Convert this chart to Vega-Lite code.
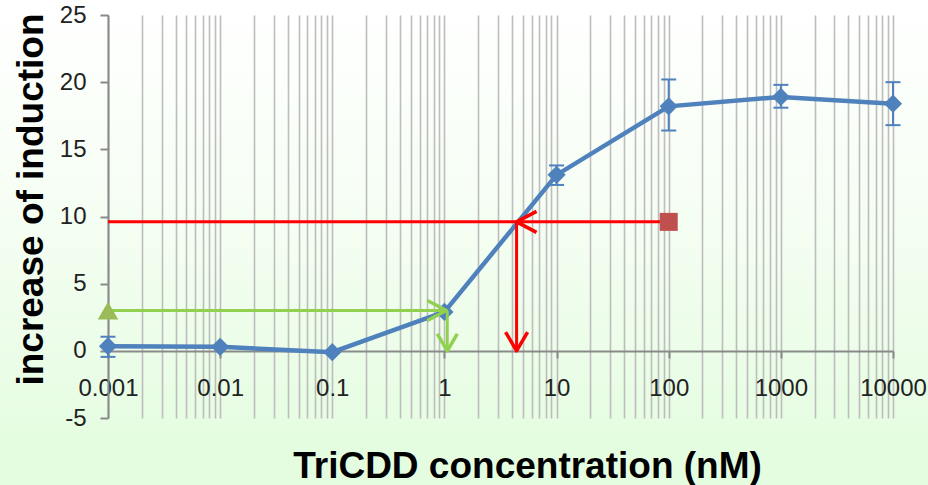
{
  "$schema": "https://vega.github.io/schema/vega-lite/v6.json",
  "width": 928,
  "height": 433,
  "autosize": {"type": "none"},
  "padding": {"left": 0, "top": 0, "right": 0, "bottom": 52},
  "background": "#e4fcdf",
  "config": {
    "font": "Liberation Sans",
    "view": {
      "stroke": null,
      "fill": {
        "gradient": "linear", "x1": 0, "y1": 0, "x2": 0, "y2": 1,
        "stops": [
          {"offset": 0, "color": "#ffffff"},
          {"offset": 0.5, "color": "#f5fef3"},
          {"offset": 1, "color": "#e6fde2"}
        ]
      }
    }
  },
  "datasets": {
    "curve": [
      {"conc": 0.001, "induction": 0.35, "lo": -0.45, "hi": 1.05},
      {"conc": 0.01, "induction": 0.3, "lo": 0.3, "hi": 0.3},
      {"conc": 0.1, "induction": -0.1, "lo": -0.1, "hi": -0.1},
      {"conc": 1, "induction": 2.9, "lo": 2.9, "hi": 2.9},
      {"conc": 10, "induction": 13.1, "lo": 12.35, "hi": 13.8},
      {"conc": 100, "induction": 18.2, "lo": 16.4, "hi": 20.2},
      {"conc": 1000, "induction": 18.9, "lo": 18.1, "hi": 19.8},
      {"conc": 10000, "induction": 18.4, "lo": 16.8, "hi": 20.0}
    ],
    "redH": [{"conc": 0.001, "conc2": 100, "induction": 9.6}],
    "redV": [{"conc": 4.4, "induction": 9.6, "induction2": 0}],
    "greenH": [{"conc": 0.001, "conc2": 1.04, "induction": 3}],
    "greenV": [{"conc": 1.06, "induction": 3, "induction2": 0}],
    "redLeftTip": [{"conc": 4.4, "induction": 9.6}],
    "redDownTip": [{"conc": 4.4, "induction": 0}],
    "greenRightTip": [{"conc": 1.04, "induction": 3}],
    "greenDownTip": [{"conc": 1.06, "induction": 0}],
    "square": [{"conc": 100, "induction": 9.6}],
    "triangle": [{"conc": 0.001, "induction": 3}]
  },
  "layer": [
    {
      "data": {"name": "curve"},
      "mark": {"type": "line", "color": "#4f81bd", "strokeWidth": 4.5},
      "encoding": {
        "x": {
          "field": "conc", "type": "quantitative",
          "scale": {"type": "log", "domain": [0.001, 10000], "range": [108, 893], "nice": false},
          "axis": {
            "title": "TriCDD concentration (nM)",
            "values": [0.001,0.002,0.003,0.004,0.005,0.006,0.007,0.008,0.009,0.01,0.02,0.03,0.04,0.05,0.06,0.07,0.08,0.09,0.1,0.2,0.3,0.4,0.5,0.6,0.7,0.8,0.9,1,2,3,4,5,6,7,8,9,10,20,30,40,50,60,70,80,90,100,200,300,400,500,600,700,800,900,1000,2000,3000,4000,5000,6000,7000,8000,9000,10000],
            "offset": -82,
            "grid": true,
            "gridColor": "#bdbdbd",
            "gridWidth": 1.6,
            "domainColor": "#8a8a8a",
            "domainWidth": 2,
            "tickColor": "#8a8a8a",
            "tickWidth": 2,
            "tickSize": 7,
            "tickOpacity": {"condition": {"test": "abs(log(datum.value)/LN10 - round(log(datum.value)/LN10)) < 0.000001", "value": 1}, "value": 0},
            "labelExpr": "abs(log(datum.value)/LN10 - round(log(datum.value)/LN10)) < 0.000001 ? format(datum.value, '~g') : ''",
            "labelFontSize": 24,
            "labelColor": "#222222",
            "labelPadding": 18,
            "labelOverlap": false,
            "labelFlush": false,
            "labelBound": false,
            "titleFontSize": 37,
            "titleFontWeight": "bold",
            "titleColor": "#000000",
            "titleX": 527,
            "titleY": 126,
            "titleBaseline": "alphabetic"
          }
        },
        "y": {
          "field": "induction", "type": "quantitative",
          "scale": {"domain": [-5, 25], "range": [418, 15], "nice": false, "zero": false},
          "axis": {
            "title": "increase of induction",
            "values": [-5, 0, 5, 10, 15, 20, 25],
            "labelExpr": "'' + datum.value",
            "offset": -108,
            "grid": false,
            "domainColor": "#8a8a8a",
            "domainWidth": 2,
            "tickColor": "#8a8a8a",
            "tickWidth": 2,
            "tickSize": 8,
            "labelFontSize": 24,
            "labelColor": "#222222",
            "labelPadding": 14,
            "labelOverlap": false,
            "labelFlush": false,
            "titleFontSize": 37,
            "titleFontWeight": "bold",
            "titleColor": "#000000",
            "titleAngle": 270,
            "titleX": -66,
            "titleY": 199,
            "titleBaseline": "alphabetic"
          }
        }
      }
    },
    {
      "data": {"name": "curve"},
      "mark": {"type": "rule", "color": "#4f81bd", "strokeWidth": 2},
      "encoding": {
        "x": {"field": "conc", "type": "quantitative"},
        "y": {"field": "lo", "type": "quantitative"},
        "y2": {"field": "hi"}
      }
    },
    {
      "data": {"name": "curve"},
      "mark": {"type": "tick", "orient": "horizontal", "size": 15, "thickness": 2, "color": "#4f81bd", "opacity": 1},
      "encoding": {
        "x": {"field": "conc", "type": "quantitative"},
        "y": {"field": "lo", "type": "quantitative"}
      }
    },
    {
      "data": {"name": "curve"},
      "mark": {"type": "tick", "orient": "horizontal", "size": 15, "thickness": 2, "color": "#4f81bd", "opacity": 1},
      "encoding": {
        "x": {"field": "conc", "type": "quantitative"},
        "y": {"field": "hi", "type": "quantitative"}
      }
    },
    {
      "data": {"name": "curve"},
      "mark": {"type": "point", "shape": "diamond", "filled": true, "size": 330, "color": "#4f81bd", "opacity": 1},
      "encoding": {
        "x": {"field": "conc", "type": "quantitative"},
        "y": {"field": "induction", "type": "quantitative"}
      }
    },
    {
      "data": {"name": "redH"},
      "mark": {"type": "rule", "color": "#ff0000", "strokeWidth": 3},
      "encoding": {
        "x": {"field": "conc", "type": "quantitative"},
        "x2": {"field": "conc2"},
        "y": {"field": "induction", "type": "quantitative"}
      }
    },
    {
      "data": {"name": "redV"},
      "mark": {"type": "rule", "color": "#ff0000", "strokeWidth": 3},
      "encoding": {
        "x": {"field": "conc", "type": "quantitative"},
        "y": {"field": "induction", "type": "quantitative"},
        "y2": {"field": "induction2"}
      }
    },
    {
      "data": {"name": "greenH"},
      "mark": {"type": "rule", "color": "#92d050", "strokeWidth": 3},
      "encoding": {
        "x": {"field": "conc", "type": "quantitative"},
        "x2": {"field": "conc2"},
        "y": {"field": "induction", "type": "quantitative"}
      }
    },
    {
      "data": {"name": "greenV"},
      "mark": {"type": "rule", "color": "#92d050", "strokeWidth": 3},
      "encoding": {
        "x": {"field": "conc", "type": "quantitative"},
        "y": {"field": "induction", "type": "quantitative"},
        "y2": {"field": "induction2"}
      }
    },
    {
      "data": {"name": "redLeftTip"},
      "mark": {"type": "point", "shape": "M1.9,-1L0,0L1.9,1", "filled": false, "size": 441, "stroke": "#ff0000", "strokeWidth": 3.5, "strokeJoin": "round", "opacity": 1},
      "encoding": {
        "x": {"field": "conc", "type": "quantitative"},
        "y": {"field": "induction", "type": "quantitative"}
      }
    },
    {
      "data": {"name": "redDownTip"},
      "mark": {"type": "point", "shape": "M-1,-1.7L0,0L1,-1.7", "filled": false, "size": 484, "stroke": "#ff0000", "strokeWidth": 3.5, "strokeJoin": "round", "opacity": 1},
      "encoding": {
        "x": {"field": "conc", "type": "quantitative"},
        "y": {"field": "induction", "type": "quantitative"}
      }
    },
    {
      "data": {"name": "greenRightTip"},
      "mark": {"type": "point", "shape": "M-1.9,-1L0,0L-1.9,1", "filled": false, "size": 400, "stroke": "#92d050", "strokeWidth": 3.5, "strokeJoin": "round", "opacity": 1},
      "encoding": {
        "x": {"field": "conc", "type": "quantitative"},
        "y": {"field": "induction", "type": "quantitative"}
      }
    },
    {
      "data": {"name": "greenDownTip"},
      "mark": {"type": "point", "shape": "M-1,-1.7L0,0L1,-1.7", "filled": false, "size": 400, "stroke": "#92d050", "strokeWidth": 3.5, "strokeJoin": "round", "opacity": 1},
      "encoding": {
        "x": {"field": "conc", "type": "quantitative"},
        "y": {"field": "induction", "type": "quantitative"}
      }
    },
    {
      "data": {"name": "square"},
      "mark": {"type": "point", "shape": "square", "filled": true, "size": 324, "color": "#c0504d", "opacity": 1},
      "encoding": {
        "x": {"field": "conc", "type": "quantitative"},
        "y": {"field": "induction", "type": "quantitative"}
      }
    },
    {
      "data": {"name": "triangle"},
      "mark": {"type": "point", "shape": "triangle-up", "filled": true, "size": 420, "color": "#9bbb59", "opacity": 1},
      "encoding": {
        "x": {"field": "conc", "type": "quantitative"},
        "y": {"field": "induction", "type": "quantitative"}
      }
    }
  ]
}
